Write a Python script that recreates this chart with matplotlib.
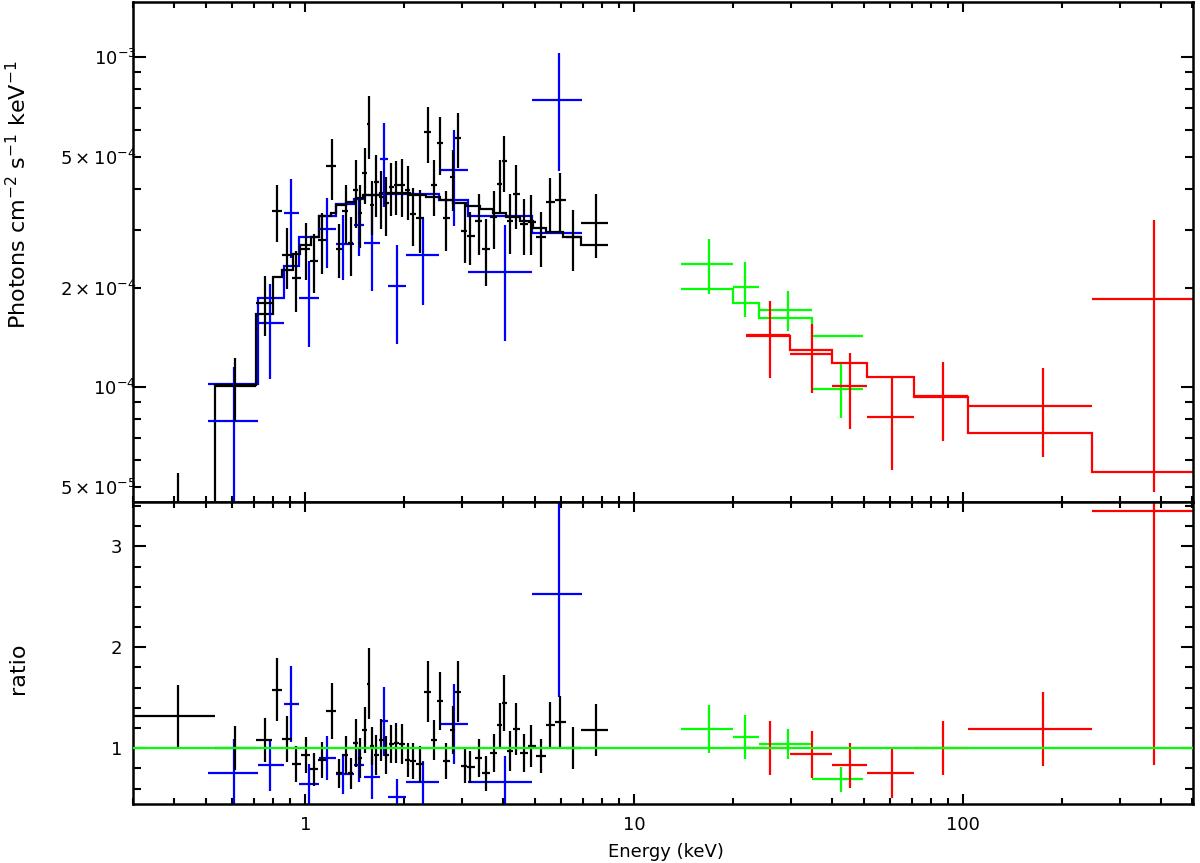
import numpy as np
import matplotlib
matplotlib.use('Agg')
import matplotlib.pyplot as plt
from matplotlib.ticker import FixedLocator, FixedFormatter, NullFormatter

# Black group (soft X-ray instrument), flux in units of 1e-4
black_edges = [0.30, 0.533, 0.709, 0.790, 0.851, 0.912, 0.972, 1.035, 1.090, 1.160, 1.240,
               1.295, 1.352, 1.400, 1.447, 1.492, 1.540, 1.578, 1.622, 1.673, 1.733, 1.795,
               1.860, 1.930, 2.010, 2.090, 2.175, 2.295, 2.410, 2.510, 2.625, 2.750, 2.862,
               2.980, 3.115, 3.275, 3.455, 3.640, 3.822, 3.958, 4.110, 4.295, 4.500, 4.745,
               5.045, 5.400, 5.755, 6.230, 6.922, 8.341]
black_energy = [0.41, 0.61, 0.757, 0.820, 0.882, 0.939, 1.007, 1.060, 1.123, 1.208, 1.266,
                1.327, 1.374, 1.430, 1.463, 1.522, 1.558, 1.600, 1.645, 1.703, 1.764, 1.827,
                1.892, 1.968, 2.052, 2.126, 2.228, 2.362, 2.458, 2.564, 2.687, 2.814, 2.914,
                3.054, 3.179, 3.377, 3.539, 3.743, 3.904, 4.015, 4.207, 4.388, 4.618, 4.875,
                5.229, 5.569, 5.944, 6.525, 7.651]
black_flux = [0.42, 1.01, 1.80, 3.42, 2.51, 2.14, 2.63, 2.42, 2.79, 4.67, 2.63, 3.41, 2.73,
              3.95, 3.37, 4.45, 6.27, 3.56, 4.18, 3.77, 3.61, 4.04, 4.09, 4.09, 3.95, 3.34,
              3.25, 5.93, 4.09, 5.49, 3.25, 4.33, 5.69, 2.98, 2.87, 3.18, 2.63, 3.27, 4.14,
              4.85, 3.19, 3.86, 3.12, 3.17, 2.85, 3.64, 3.69, 2.85, 3.15]
black_flux_err = [0.13, 0.22, 0.37, 0.67, 0.53, 0.45, 0.51, 0.49, 0.59, 0.97, 0.49, 0.70, 0.55,
                  0.92, 0.73, 0.87, 1.34, 0.67, 0.89, 0.75, 0.73, 0.74, 0.76, 0.81, 0.74, 0.67,
                  0.70, 1.14, 0.78, 1.08, 0.67, 0.90, 1.08, 0.60, 0.53, 0.67, 0.60, 0.65, 0.74,
                  0.94, 0.66, 0.84, 0.61, 0.65, 0.54, 0.68, 0.76, 0.60, 0.69]
black_ratio = [1.32, 1.00, 1.08, 1.58, 1.09, 0.84, 0.93, 0.79, 0.88, 1.37, 0.75, 0.93, 0.75,
               1.05, 0.90, 1.18, 1.64, 1.02, 0.93, 1.08, 0.93, 1.04, 1.05, 1.04, 0.88, 0.87,
               0.84, 1.56, 1.08, 1.47, 0.87, 1.18, 1.56, 0.82, 0.81, 0.90, 0.75, 0.95, 1.23,
               1.45, 0.97, 1.19, 0.95, 1.02, 0.92, 1.23, 1.26, 1.00, 1.18]
black_ratio_err = [0.31, 0.22, 0.22, 0.31, 0.23, 0.18, 0.18, 0.16, 0.18, 0.28, 0.14, 0.19, 0.15,
                   0.24, 0.20, 0.23, 0.35, 0.19, 0.20, 0.21, 0.19, 0.19, 0.20, 0.20, 0.17, 0.18,
                   0.18, 0.30, 0.20, 0.29, 0.18, 0.24, 0.30, 0.17, 0.16, 0.19, 0.17, 0.19, 0.22,
                   0.28, 0.20, 0.26, 0.19, 0.21, 0.17, 0.23, 0.26, 0.21, 0.26]
black_model_edges = [0.30, 0.533, 0.709, 0.797, 0.851, 0.917, 0.961, 1.043, 1.105, 1.200, 1.243,
                     1.333, 1.430, 1.497, 1.684, 2.077, 2.335, 2.564, 2.814, 3.091, 3.394, 3.726,
                     4.092, 4.491, 4.930, 5.415, 6.083, 6.922, 8.341]
black_model = [0.32, 1.014, 1.672, 2.158, 2.262, 2.542, 2.694, 2.853, 3.298, 3.375, 3.561, 3.644,
               3.757, 3.818, 3.864, 3.818, 3.766, 3.686, 3.609, 3.535, 3.462, 3.367, 3.274,
               3.184, 3.032, 2.949, 2.853, 2.694]

# Blue group
blue_edges = [0.505, 0.717, 0.859, 0.956, 1.105, 1.243, 1.403, 1.505, 1.684, 1.79, 2.03, 2.56,
              3.12, 4.89, 6.95]
blue_energy = [0.609, 0.782, 0.906, 1.03, 1.167, 1.30, 1.453, 1.60, 1.735, 1.90, 2.28, 2.83,
               4.06, 5.90]
blue_flux = [0.789, 1.56, 3.37, 1.865, 3.02, 2.72, 3.11, 2.74, 4.91, 2.02, 2.51, 4.56, 2.24, 7.42]
blue_flux_err = [0.36, 0.50, 0.90, 0.54, 0.72, 0.60, 0.62, 0.78, 1.40, 0.67, 0.74, 1.47, 0.86, 2.9]
blue_ratio = [0.75, 0.835, 1.437, 0.643, 0.90, 0.745, 0.835, 0.71, 1.265, 0.52, 0.66, 1.24,
              0.66, 2.53]
blue_ratio_err = [0.34, 0.26, 0.38, 0.20, 0.22, 0.20, 0.17, 0.21, 0.34, 0.17, 0.21, 0.40, 0.26,
                  1.02]
blue_model = [1.02, 1.865, 2.33, 2.853, 3.30, 3.58, 3.71, 3.82, 3.86, 3.86, 3.86, 3.69, 3.30, 2.94]

# Green group
green_edges = [13.87, 20.07, 24.06, 34.9, 49.9]
green_energy = [16.87, 21.8, 29.4, 42.5]
green_flux = [2.37, 2.01, 1.72, 0.99]
green_flux_err = [0.45, 0.38, 0.24, 0.185]
green_ratio = [1.19, 1.11, 1.04, 0.69]
green_ratio_err = [0.235, 0.215, 0.15, 0.125]
green_model = [1.98, 1.805, 1.626, 1.427]

# Red group
red_edges = [21.85, 29.9, 39.9, 51.2, 70.9, 104, 248, 600]
red_energy = [26.0, 34.9, 45.4, 60.9, 86.9, 175, 380.6]
red_flux = [1.444, 1.259, 1.009, 0.813, 0.939, 0.88, 1.85]
red_flux_err = [0.38, 0.30, 0.26, 0.25, 0.25, 0.265, 1.37]
red_ratio = [1.0, 0.94, 0.83, 0.75, 1.0, 1.19, 3.35]
red_ratio_err = [0.265, 0.235, 0.225, 0.24, 0.27, 0.37, 2.52]
red_model = [1.43, 1.295, 1.185, 1.075, 0.935, 0.727, 0.553]

groups = [
    ('#0000ff', blue_edges, blue_energy, blue_flux, blue_flux_err, blue_ratio, blue_ratio_err,
     blue_edges, blue_model),
    ('#000000', black_edges, black_energy, black_flux, black_flux_err, black_ratio,
     black_ratio_err, black_model_edges, black_model),
    ('#00ff00', green_edges, green_energy, green_flux, green_flux_err, green_ratio,
     green_ratio_err, green_edges, green_model),
    ('#ff0000', red_edges, red_energy, red_flux, red_flux_err, red_ratio, red_ratio_err,
     red_edges, red_model),
]

fig = plt.figure(figsize=(12, 8.63), dpi=100)
ax1 = fig.add_axes([0.1111, 0.4183, 0.8831, 0.5794])
ax2 = fig.add_axes([0.1111, 0.0684, 0.8831, 0.3499], sharex=ax1)

lw = 1.6
for color, edges, en, fl, fle, ra, rae, medges, model in groups:
    edges = np.array(edges)
    en = np.array(en)
    xerr = [en - edges[:-1], edges[1:] - en]
    ax1.errorbar(en, np.array(fl) * 1e-4, yerr=np.array(fle) * 1e-4, xerr=xerr, fmt='none',
                 ecolor=color, elinewidth=lw, capsize=0)
    ax1.stairs(np.array(model) * 1e-4, medges, baseline=None, color=color, lw=lw)
    ax2.errorbar(en, ra, yerr=rae, xerr=xerr, fmt='none', ecolor=color, elinewidth=lw, capsize=0)

ax2.axhline(1.0, color='#00ff00', lw=lw, zorder=5)

ax1.set_xscale('log')
ax1.set_yscale('log')
ax1.set_xlim(0.30, 502)
ax1.set_ylim(4.49e-5, 1.47e-3)
ax2.set_ylim(0.447, 3.44)

# x ticks
xmaj = [1, 10, 100]
xmin = [0.3, 0.4, 0.5, 0.6, 0.7, 0.8, 0.9] + [2, 3, 4, 5, 6, 7, 8, 9] + \
       [20, 30, 40, 50, 60, 70, 80, 90] + [200, 300, 400, 500]
for ax in (ax1, ax2):
    ax.xaxis.set_major_locator(FixedLocator(xmaj))
    ax.xaxis.set_minor_locator(FixedLocator(xmin))
    ax.xaxis.set_minor_formatter(NullFormatter())
ax2.xaxis.set_major_formatter(FixedFormatter(['1', '10', '100']))
ax1.tick_params(axis='x', which='both', labelbottom=False)

# y ticks top panel
ax1.yaxis.set_major_locator(FixedLocator([1e-4, 1e-3]))
ax1.yaxis.set_major_formatter(FixedFormatter([r'$10^{-4}$', r'$10^{-3}$']))
ymin_top = [5e-5, 6e-5, 7e-5, 8e-5, 9e-5, 2e-4, 3e-4, 4e-4, 5e-4, 6e-4, 7e-4, 8e-4, 9e-4]
ymin_lab = [r'$5\times10^{-5}$', '', '', '', '', r'$2\times10^{-4}$', '', '',
            r'$5\times10^{-4}$', '', '', '', '']
ax1.yaxis.set_minor_locator(FixedLocator(ymin_top))
ax1.yaxis.set_minor_formatter(FixedFormatter(ymin_lab))

# y ticks ratio panel
ax2.yaxis.set_major_locator(FixedLocator([1, 2, 3]))
ax2.yaxis.set_major_formatter(FixedFormatter(['1', '2', '3']))
ax2.yaxis.set_minor_locator(FixedLocator([0.6, 0.8, 1.2, 1.4, 1.6, 1.8, 2.2, 2.4, 2.6, 2.8,
                                          3.2, 3.4]))

for ax in (ax1, ax2):
    ax.tick_params(which='both', direction='in', top=True, right=True, width=1.5,
                   labelsize=13, colors='black')
    ax.tick_params(axis='x', which='major', length=7, pad=9)
    ax.tick_params(axis='x', which='minor', length=4.5)
    ax.tick_params(axis='y', which='major', length=9)
    ax.tick_params(axis='y', which='minor', length=5.5)
    for s in ax.spines.values():
        s.set_linewidth(1.8)
ax1.tick_params(axis='y', which='both', pad=-2)
ax2.tick_params(axis='y', which='both', pad=8)

fig.text(18 / 1200, 1 - 195 / 863, r'Photons cm$^{-2}$ s$^{-1}$ keV$^{-1}$', rotation=90,
         ha='center', va='center', fontsize=16)
fig.text(18 / 1200, 1 - 668 / 863, 'ratio', rotation=90, ha='center', va='center', fontsize=16)
fig.text(666 / 1200, 1 - 852 / 863, 'Energy (keV)', ha='center', va='center', fontsize=13)

fig.savefig('out.png', dpi=100)
